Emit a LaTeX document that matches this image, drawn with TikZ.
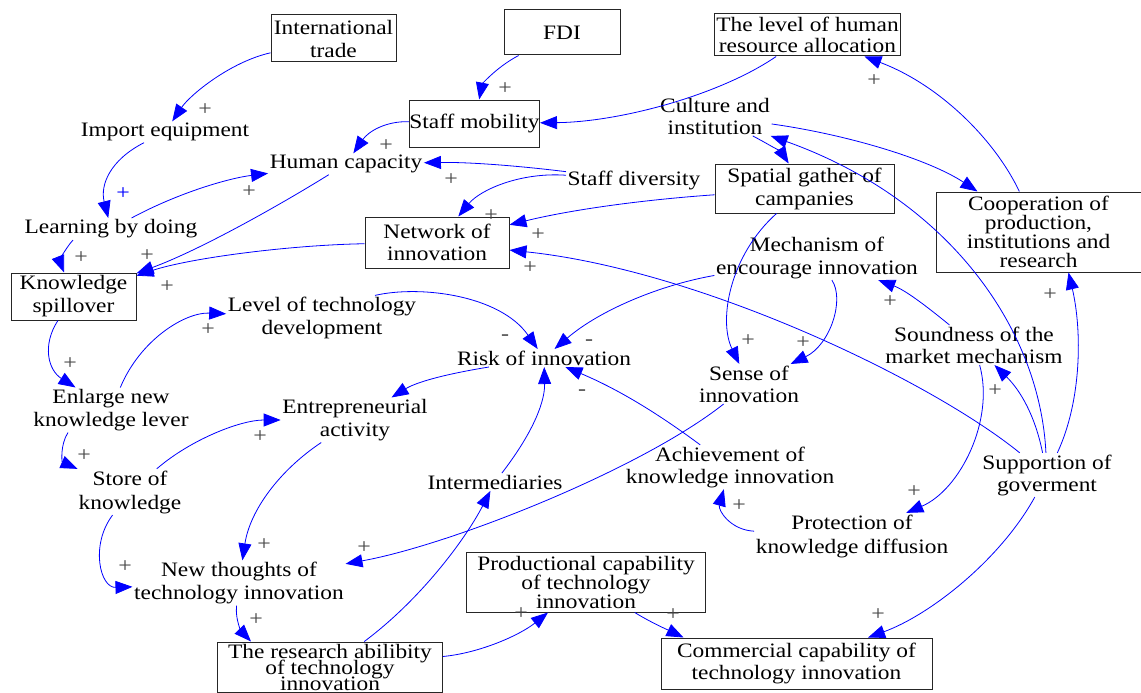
\documentclass[tikz,border=0pt]{standalone}
\usepackage{fontspec}
\setmainfont{Liberation Serif}[FakeStretch=1.14]
\usetikzlibrary{arrows.meta}
\definecolor{cblue}{RGB}{0,0,255}
\definecolor{sgray}{RGB}{70,70,70}
\newcommand\lfs[1]{\fontsize{20.5pt}{#1pt}\selectfont\lineskiplimit=-50pt\relax}
\tikzset{
  arr/.style={draw=cblue, line width=0.8pt, -{Triangle[length=17pt,width=13pt]}},
  box/.style={draw=black!85, line width=1pt, inner sep=0pt, align=center},
  txt/.style={inner sep=1.5pt, align=center},
  sgn/.style={font=\fontsize{21pt}{21pt}\selectfont, text=sgray, inner sep=0pt},
}
\begin{document}
\begin{tikzpicture}[x=1pt,y=-1pt]
\useasboundingbox (0,0) rectangle (1141,693);
% boxes
\node[box, minimum width=125pt, minimum height=47pt, font=\lfs{23}] (trade) at (333.5,38.5) {International\\trade};
\node[box, minimum width=116pt, minimum height=45pt, font=\lfs{23}] (fdi) at (562,32.5) {FDI};
\node[box, minimum width=186pt, minimum height=42pt, font=\lfs{21}] (hr) at (807.5,35) {The level of human\\resource allocation};
\node[box, minimum width=125pt, minimum height=47pt, font=\lfs{23}] (mob) at (474.5,123.5) {Staff mobility};
\node[box, minimum width=144pt, minimum height=51pt, font=\lfs{22}] (net) at (437,242.5) {Network of\\innovation};
\node[box, minimum width=125pt, minimum height=47pt, font=\lfs{23}] (spill) at (73.5,296.5) {Knowledge\\spillover};
\node[box, minimum width=179pt, minimum height=49pt, font=\lfs{23}] (spat) at (804.5,188.5) {Spatial gather of\\campanies};
\node[box, minimum width=205pt, minimum height=80pt, font=\lfs{19}] (coop) at (1038.5,232) {Cooperation of\\production,\\institutions and\\research};
\node[box, minimum width=239pt, minimum height=60pt, font=\lfs{19}] (prod) at (586,582) {Productional capability\\of technology\\innovation};
\node[box, minimum width=225pt, minimum height=50pt, font=\lfs{16}] (res) at (330,667) {The research abilibity\\of technology\\innovation};
\node[box, minimum width=271pt, minimum height=51pt, font=\lfs{22}] (com) at (796.5,663.5) {Commercial capability of\\technology innovation};
% plain texts
\node[txt, font=\lfs{23}] (imp) at (165,132) {Import equipment};
\node[txt, font=\lfs{23}] (lbd) at (111,229) {Learning by doing};
\node[txt, font=\lfs{23}] (hum) at (346,164) {Human capacity};
\node[txt, font=\lfs{23}] (sdiv) at (634,180) {Staff diversity};
\node[txt, font=\lfs{22}] (cult) at (715,116) {Culture and\\institution};
\node[txt, font=\lfs{23}] (mech) at (817,257.5) {Mechanism of\\encourage innovation};
\node[txt, font=\lfs{23}] (ltd) at (322,318) {Level of technology\\development};
\node[txt, font=\lfs{23}] (risk) at (544,358) {Risk of innovation};
\node[txt, font=\lfs{22}] (sense) at (749,384) {Sense of\\innovation};
\node[txt, font=\lfs{22}] (sound) at (974,345) {Soundness of the\\market mechanism};
\node[txt, font=\lfs{23}] (enl) at (111,410) {Enlarge new\\knowledge lever};
\node[txt, font=\lfs{23}] (ent) at (355,420) {Entrepreneurial\\activity};
\node[txt, font=\lfs{24}] (store) at (130,492) {Store of\\knowledge};
\node[txt, font=\lfs{23}] (inter) at (495,482) {Intermediaries};
\node[txt, font=\lfs{22}] (ach) at (730,467) {Achievement of\\knowledge innovation};
\node[txt, font=\lfs{24}] (prot) at (852,536) {Protection of\\knowledge diffusion};
\node[txt, font=\lfs{22}] (sup) at (1047,475) {Supportion of\\goverment};
\node[txt, font=\lfs{23}] (newt) at (239,583) {New thoughts of\\technology innovation};
% connectors
\draw[arr] (trade) .. controls (230,62) and (190,95) .. (imp);
\draw[arr] (fdi) .. controls (495,68) and (482,85) .. (mob);
\draw[arr] (hr) .. controls (720,95) and (620,122) .. (mob);
\draw[arr] (mob) .. controls (385,121) and (368,132) .. (hum);
\draw[arr] (imp) .. controls (110,160) and (100,185) .. (lbd);
\draw[arr] (lbd) .. controls (180,192) and (230,178) .. (hum);
\draw[arr] ([xshift=-38pt]lbd.south) .. controls (64,250) and (60,262) .. (spill);
\draw[arr] (hum) .. controls (280,205) and (200,250) .. (spill);
\draw[arr] (net) .. controls (290,245) and (190,258) .. (spill);
\draw[arr] (sdiv) .. controls (520,166) and (470,162) .. (hum);
\draw[arr] (sdiv) .. controls (520,172) and (480,190) .. (net);
\draw[arr] (spat) .. controls (640,200) and (570,210) .. (net);
\draw[arr] (sup) .. controls (930,380) and (700,270) .. (net);
\draw[arr] (cult) .. controls (770,145) and (782,153) .. (spat);
\draw[arr] (cult) .. controls (850,135) and (930,160) .. (coop);
\draw[arr] (sup) .. controls (1040,330) and (950,200) .. (cult);
\draw[arr] (coop) .. controls (995,140) and (940,85) .. (hr);
\draw[arr] (spat) .. controls (730,255) and (718,320) .. (sense);
\draw[arr] (mech) .. controls (845,300) and (830,345) .. (sense);
\draw[arr] (mech) .. controls (660,285) and (600,310) .. (risk);
\draw[arr] (sound) .. controls (925,305) and (905,290) .. (mech);
\draw[arr] (sup) .. controls (1035,415) and (1020,390) .. (sound);
\draw[arr] (sup) .. controls (1082,400) and (1082,330) .. ([xshift=30pt]coop.south);
\draw[arr] (sound) .. controls (995,420) and (960,490) .. (prot);
\draw[arr] (prot) .. controls (730,530) and (718,510) .. (ach);
\draw[arr] (ach) .. controls (660,415) and (620,390) .. (risk);
\draw[arr] (sense) .. controls (640,470) and (450,545) .. (newt);
\draw[arr] (sup) .. controls (1000,560) and (930,615) .. (com);
\draw[arr] (prod) .. controls (650,622) and (668,630) .. ([xshift=-113pt]com.north);
\draw[arr] (res) .. controls (480,653) and (520,635) .. (prod);
\draw[arr] (res) .. controls (420,600) and (465,540) .. (inter);
\draw[arr] (inter) .. controls (535,430) and (545,400) .. (risk);
\draw[arr] (newt) .. controls (235,620) and (242,632) .. ([xshift=-79pt]res.north);
\draw[arr] (ent) .. controls (280,470) and (250,510) .. (newt);
\draw[arr] (store) .. controls (90,545) and (100,588) .. (newt);
\draw[arr] (store) .. controls (190,440) and (240,420) .. (ent);
\draw[arr] ([xshift=-43pt]enl.south) .. controls (60,445) and (62,462) .. (store);
\draw[arr] (spill) .. controls (42,345) and (48,370) .. (enl);
\draw[arr] (enl) .. controls (140,340) and (185,312) .. (ltd);
\draw[arr] ([xshift=53pt]ltd.north) .. controls (420,285) and (500,295) .. (risk);
\draw[arr] (risk) .. controls (440,375) and (415,383) .. (ent);
% polarity signs
\node[sgn] (p1) at (205,110) {+};
\node[sgn] (p2) at (505,89) {+};
\node[sgn] (p3) at (386,146) {+};
\node[sgn, text=cblue] (p4) at (123,194) {+};
\node[sgn] (p5) at (249,192) {+};
\node[sgn] (p6) at (81,258) {+};
\node[sgn] (p7) at (147,256) {+};
\node[sgn] (p8) at (167,287) {+};
\node[sgn] (p9) at (451,180) {+};
\node[sgn] (p10) at (491,216) {+};
\node[sgn] (p11) at (538,235) {+};
\node[sgn] (p12) at (530,268) {+};
\node[sgn] (p13) at (874,81) {+};
\node[sgn] (p14) at (748,341) {+};
\node[sgn] (p15) at (803,343) {+};
\node[sgn] (p16) at (890,302) {+};
\node[sgn] (p17) at (995,391) {+};
\node[sgn] (p18) at (1050,295) {+};
\node[sgn] (p19) at (914,492) {+};
\node[sgn] (p20) at (739,506) {+};
\node[sgn] (p21) at (878,615) {+};
\node[sgn] (p22) at (673,615) {+};
\node[sgn] (p23) at (521,614) {+};
\node[sgn] (p24) at (256,620) {+};
\node[sgn] (p25) at (264,545) {+};
\node[sgn] (p26) at (125,567) {+};
\node[sgn] (p27) at (260,437) {+};
\node[sgn] (p28) at (84,456) {+};
\node[sgn] (p29) at (70,364) {+};
\node[sgn] (p30) at (208,330) {+};
\node[sgn] (p31) at (364,548) {+};
\node[sgn] (m1) at (505,338) {-};
\node[sgn] (m2) at (589,343) {-};
\node[sgn] (m3) at (582,393) {-};
\end{tikzpicture}
\end{document}
